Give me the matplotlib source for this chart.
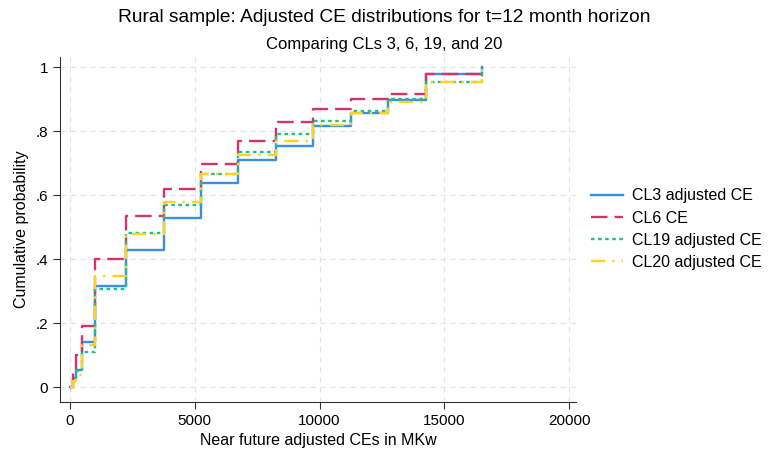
import numpy as np
import matplotlib
matplotlib.use("Agg")
import matplotlib.pyplot as plt

plt.rcParams["font.family"] = ["Liberation Sans", "DejaVu Sans"]

# CE values (MKw) at which the empirical CDFs step
ce_vals = [0, 125, 250, 500, 1000, 2250, 3750, 5250, 6750, 8250,
           9750, 11250, 12750, 14250, 16500]

cl3  = [0.0, 0.03, 0.055, 0.14, 0.317, 0.428, 0.528, 0.637, 0.711, 0.755,
        0.815, 0.856, 0.897, 0.977, 1.0]
cl6  = [0.0, 0.05, 0.10, 0.19, 0.40, 0.535, 0.62, 0.697, 0.77, 0.83,
        0.868, 0.90, 0.916, 0.977, 1.0]
cl19 = [0.0, 0.02, 0.05, 0.11, 0.306, 0.482, 0.569, 0.665, 0.736, 0.79,
        0.832, 0.862, 0.899, 0.952, 1.0]
cl20 = [0.0, 0.02, 0.04, 0.131, 0.347, 0.478, 0.578, 0.665, 0.727, 0.77,
        0.82, 0.856, 0.89, 0.952, 1.0]

labels = ["CL3 adjusted CE", "CL6 CE", "CL19 adjusted CE", "CL20 adjusted CE"]
colors = ["#3a8ee6", "#d6336c", "#1fbf8a", "#ffd21f"]
styles = ["-", (0, (7, 3)), (0, (1.5, 1.5)), (0, (6, 3, 1, 3))]

fig = plt.figure(figsize=(7.68, 4.5), dpi=100)
ax = fig.add_axes([0.0781, 0.1073, 0.672, 0.767])

for vals, lbl, c, ls in zip([cl3, cl6, cl19, cl20], labels, colors, styles):
    ax.step(ce_vals, vals, where="post", color=c, linestyle=ls,
            linewidth=1.7, label=lbl)

ax.set_xlim(-400, 20280)
ax.set_ylim(-0.045, 1.033)
ax.set_xticks([0, 5000, 10000, 15000, 20000])
ax.set_yticks([0, 0.2, 0.4, 0.6, 0.8, 1.0])
ax.set_yticklabels(["0", ".2", ".4", ".6", ".8", "1"])
ax.tick_params(labelsize=11, color="#333333", length=5)
ax.grid(True, linestyle=(0, (5, 4)), color="#e4e4e4", linewidth=0.8)
ax.set_axisbelow(True)
for s in ["top", "right"]:
    ax.spines[s].set_visible(False)
for s in ["left", "bottom"]:
    ax.spines[s].set_color("#333333")

ax.set_xlabel("Near future adjusted CEs in MKw", fontsize=11.5, labelpad=4)
ax.set_ylabel("Cumulative probability", fontsize=11.5, labelpad=5)

fig.text(0.5, 0.96, "Rural sample: Adjusted CE distributions for t=12 month horizon",
         ha="center", va="center", fontsize=13.8)
fig.text(0.5, 0.902, "Comparing CLs 3, 6, 19, and 20",
         ha="center", va="center", fontsize=12)

ax.legend(loc="center left", bbox_to_anchor=(1.016, 0.5), borderaxespad=0,
          frameon=False, fontsize=11.5, handlelength=2.0, handletextpad=0.6,
          labelspacing=0.45)

fig.savefig("out.png", dpi=100)
